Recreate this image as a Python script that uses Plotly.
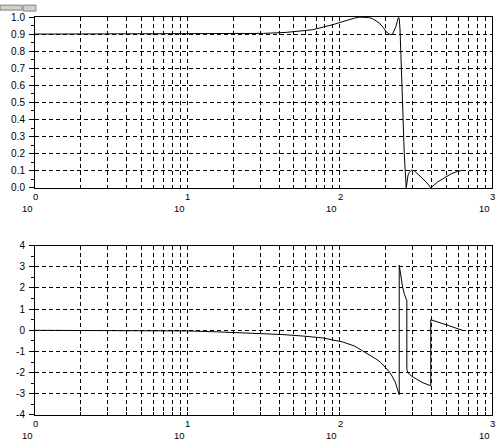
import numpy as np
import plotly.graph_objects as go
from plotly.subplots import make_subplots

# ---- data (x given as log10 of frequency) ----
mag_logf = [0.0, 0.5, 1.0, 1.3, 1.5, 1.65, 1.82, 1.95, 2.04, 2.10, 2.129, 2.16, 2.19,
            2.216, 2.24, 2.26, 2.285, 2.304, 2.325, 2.336, 2.347, 2.36, 2.369, 2.378,
            2.386, 2.391, 2.396, 2.402, 2.413, 2.424, 2.437, 2.442, 2.449, 2.457, 2.474,
            2.49, 2.507, 2.540, 2.573, 2.598, 2.62, 2.641, 2.686, 2.730, 2.773, 2.806]
mag_vals = [0.9, 0.9, 0.9, 0.901, 0.904, 0.91, 0.925, 0.954, 0.979, 0.994, 0.999, 1.0, 0.997,
            0.99, 0.978, 0.965, 0.94, 0.915, 0.90, 0.897, 0.90, 0.925, 0.944, 0.975,
            0.998, 0.99, 0.93, 0.78, 0.49, 0.2, 0.0, 0.05, 0.075, 0.09, 0.105,
            0.1, 0.087, 0.058, 0.029, 0.0, 0.017, 0.033, 0.058, 0.081, 0.096, 0.102]

ph_logf = [0.0, 0.5, 0.75, 1.0, 1.19, 1.408, 1.625, 1.757, 1.889, 2.02, 2.1, 2.15, 2.2,
           2.238, 2.27, 2.30, 2.325, 2.347, 2.365, 2.38, 2.391, 2.391, 2.394, 2.402,
           2.413, 2.425, 2.436, 2.441, 2.441, 2.448, 2.469, 2.50, 2.541, 2.598, 2.598,
           2.70, 2.806]
ph_vals = [0, -0.003, -0.01, -0.03, -0.07, -0.12, -0.2, -0.27, -0.36, -0.55, -0.75, -0.97, -1.18,
           -1.35, -1.52, -1.74, -1.95, -2.2, -2.45, -2.8, -3.04, 3.08, 2.9, 2.55,
           2.05, 1.7, 1.5, 1.4, -1.84, -2.0, -2.15, -2.3, -2.46, -2.62, 0.5,
           0.26, 0.0]

decade_exps = ["0", "1", "2", "3"]
decade_base = "10"
mag_ticks = [0.0, 0.1, 0.2, 0.3, 0.4, 0.5, 0.6, 0.7, 0.8, 0.9, 1.0]
mag_ticktext = ["0.0", "0.1", "0.2", "0.3", "0.4", "0.5", "0.6", "0.7", "0.8", "0.9", "1.0"]
ph_ticks = [-4, -3, -2, -1, 0, 1, 2, 3, 4]
ph_ticktext = ["-4", "-3", "-2", "-1", "0", "1", "2", "3", "4"]

FONT = "Liberation Sans, Arial, sans-serif"
W, H = 504, 446
ML, MR, MT, MB = 35, 11, 12, 31
PH = H - MT - MB

fig = make_subplots(rows=2, cols=1)
fig.add_trace(go.Scatter(x=np.power(10.0, mag_logf), y=mag_vals, mode="lines",
                         line=dict(color="black", width=1), showlegend=False), row=1, col=1)
fig.add_trace(go.Scatter(x=np.power(10.0, ph_logf), y=ph_vals, mode="lines",
                         line=dict(color="black", width=1), showlegend=False), row=2, col=1)

xgrid = [m * 10 ** d for d in range(3) for m in range(1, 10)] + [1000]
xcommon = dict(type="log", range=[0, 3], tickvals=xgrid, showticklabels=False,
               showgrid=True, gridcolor="black", griddash="4px,3px", gridwidth=1,
               showline=True, linecolor="black", linewidth=1, mirror=True,
               ticks="inside", ticklen=3, tickcolor="black", zeroline=False)
ycommon = dict(showgrid=True, gridcolor="black", griddash="4px,3px", gridwidth=1,
               showline=True, linecolor="black", linewidth=1, mirror=True,
               ticks="outside", ticklen=5, tickcolor="black", zeroline=False,
               tickfont=dict(family=FONT, size=10, color="black"), ticklabelstandoff=2)

top_lo = (H - MB - 185) / PH
bot_hi = (H - MB - 243.5) / PH
fig.update_xaxes(**xcommon)
fig.update_layout(
    xaxis=dict(domain=[0, 1]),
    xaxis2=dict(domain=[0, 1]),
    yaxis=dict(ycommon, domain=[top_lo, 1], range=[0, 1], tickvals=mag_ticks, ticktext=mag_ticktext,
               minor=dict(dtick=0.05, tick0=0, ticks="outside", ticklen=3, tickcolor="black", showgrid=False)),
    yaxis2=dict(ycommon, domain=[0, bot_hi], range=[-4, 4], tickvals=ph_ticks, ticktext=ph_ticktext,
                minor=dict(dtick=0.5, tick0=0, ticks="outside", ticklen=3, tickcolor="black", showgrid=False)),
)

annotations = []
for xa, ya in (("x", "y domain"), ("x2", "y2 domain")):
    for i, e in enumerate(decade_exps):
        annotations.append(dict(x=i, y=0, xref=xa, yref=ya, text=e, showarrow=False,
                                yanchor="middle", xanchor="center", yshift=-8.5, xshift=0.5,
                                font=dict(family=FONT, size=9.5, color="black")))
        annotations.append(dict(x=i, y=0, xref=xa, yref=ya, text=decade_base, showarrow=False,
                                yanchor="middle", xanchor="center", yshift=-20.5, xshift=-8,
                                font=dict(family=FONT, size=9.5, color="black")))

def px2paper(px, py):
    return (px - ML) / (W - ML - MR), (H - MB - py) / PH

shapes = []
for (x0, y0, x1, y1) in ((0, 0, 22, 5), (23, 0, 36, 6)):
    a0, b0 = px2paper(x0, y0)
    a1, b1 = px2paper(x1, y1)
    shapes.append(dict(type="rect", xref="paper", yref="paper", x0=a0, x1=a1, y0=b1, y1=b0,
                       fillcolor="#d4d0c8", line=dict(color="#808080", width=1)))

fig.update_layout(
    width=W, height=H,
    margin=dict(l=ML, r=MR, t=MT, b=MB),
    paper_bgcolor="white", plot_bgcolor="white",
    annotations=annotations, shapes=shapes,
    font=dict(family=FONT, size=9, color="black"),
    showlegend=False,
)

fig.write_html("out.html", config={"displayModeBar": False},
               post_script="document.body.style.margin='0';document.body.style.overflow='hidden';")
